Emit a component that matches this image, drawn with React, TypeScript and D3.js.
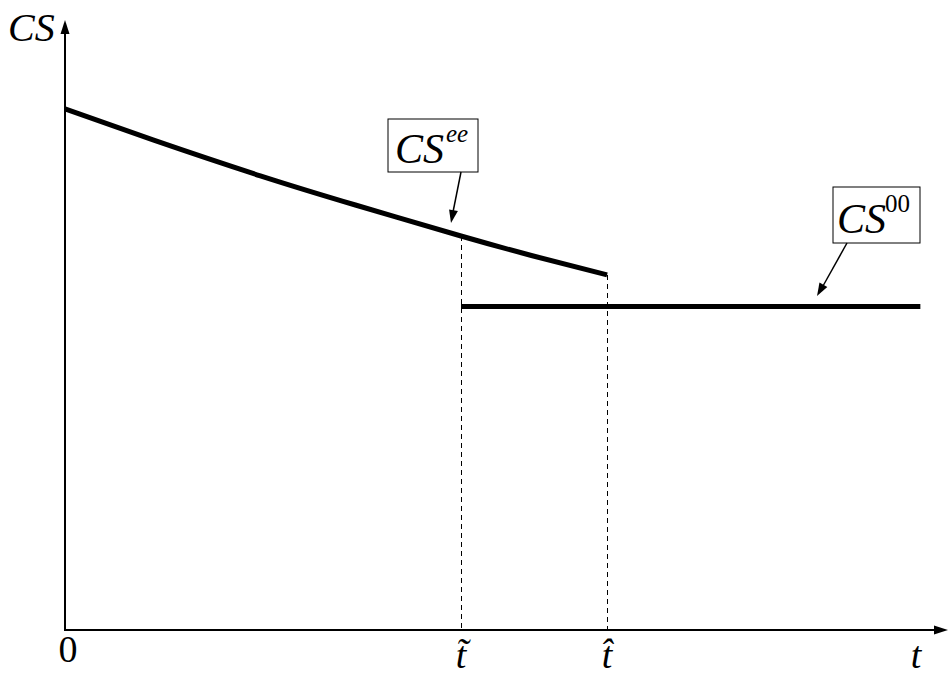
import React from "react";
import * as d3 from "d3";

const curveT = [0, 10, 22.2, 33, 45, 53, 61.6];
const curveCS = [85.7, 80.6, 74.7, 69.9, 64.8, 61.6, 58.4];
const flatT = [45, 97.2];
const flatCS = [53.2, 53.2];
const markT = [45, 61.6];
const markLabels = ["t\u0303", "t\u0302"];

const W = 948;
const H = 675;

export default function App() {
  const x = d3.scaleLinear().domain([0, 100]).range([65, 945]);
  const y = d3.scaleLinear().domain([0, 100]).range([630, 22]);
  const line = d3
    .line<[number, number]>()
    .x((d) => x(d[0]))
    .y((d) => y(d[1]))
    .curve(d3.curveNatural);
  const curvePts: [number, number][] = curveT.map((t, i) => [t, curveCS[i]]);
  const flatPts: [number, number][] = flatT.map((t, i) => [t, flatCS[i]]);
  const curveAt = (t: number) => curveCS[curveT.indexOf(t)];
  const x0 = x(0);
  const yb = y(0);
  const serif = "'Liberation Serif', 'Times New Roman', serif";

  const arrowHead = (tx: number, ty: number, fx: number, fy: number, len = 13, w = 4.5) => {
    const a = Math.atan2(ty - fy, tx - fx);
    const bx = tx - len * Math.cos(a);
    const by = ty - len * Math.sin(a);
    const px = -Math.sin(a) * w;
    const py = Math.cos(a) * w;
    return `M${tx},${ty}L${bx + px},${by + py}L${bx - px},${by - py}Z`;
  };

  return (
    <svg width={W} height={H} style={{ position: "absolute", left: 0, top: 0, background: "#fff" }}>
      {/* axes */}
      <line x1={x0} y1={yb + 1} x2={x0} y2={32} stroke="#000" strokeWidth={2} />
      <path d={arrowHead(x0, 20, x0, 40, 14, 4.5)} fill="#000" />
      <line x1={x0 - 1} y1={yb} x2={936} y2={yb} stroke="#000" strokeWidth={2} />
      <path d={arrowHead(948, yb, 930, yb, 14, 4.5)} fill="#000" />

      {/* dashed guides */}
      {markT.map((t, i) => (
        <line
          key={"g" + i}
          x1={Math.round(x(t)) + 0.5}
          x2={Math.round(x(t)) + 0.5}
          y1={y(curveAt(t))}
          y2={yb}
          stroke="#000"
          strokeWidth={1}
          strokeDasharray="5,4"
          shapeRendering="crispEdges"
        />
      ))}

      {/* series */}
      <path d={line(curvePts) || ""} fill="none" stroke="#000" strokeWidth={5} />
      <path d={line(flatPts) || ""} fill="none" stroke="#000" strokeWidth={5} />

      {/* labels */}
      <text x={8} y={41} fontFamily={serif} fontStyle="italic" fontSize={40}>CS</text>
      <text x={68} y={662} fontFamily={serif} fontSize={38} textAnchor="middle">0</text>
      {markT.map((t, i) => (
        <text key={"m" + i} x={x(t)} y={668} fontFamily={serif} fontStyle="italic" fontSize={38} textAnchor="middle">
          {markLabels[i]}
        </text>
      ))}
      <text x={916} y={668} fontFamily={serif} fontStyle="italic" fontSize={38} textAnchor="middle">t</text>

      {/* CS^ee box */}
      <rect x={388} y={119} width={90} height={53} fill="#fff" stroke="#000" strokeWidth={1} />
      <text x={395} y={163} fontFamily={serif} fontStyle="italic" fontSize={42}>CS</text>
      <text x={446} y={142} fontFamily={serif} fontStyle="italic" fontSize={25}>ee</text>
      <line x1={461} y1={172} x2={453} y2={212} stroke="#000" strokeWidth={1.5} />
      <path d={arrowHead(451, 223, 461, 172, 13, 4.5)} fill="#000" />

      {/* CS^00 box */}
      <rect x={833} y={187} width={87} height={56} fill="#fff" stroke="#000" strokeWidth={1} />
      <text x={837} y={233} fontFamily={serif} fontStyle="italic" fontSize={42}>CS</text>
      <text x={885} y={212} fontFamily={serif} fontSize={25}>00</text>
      <line x1={847} y1={243} x2={823} y2={286} stroke="#000" strokeWidth={1.5} />
      <path d={arrowHead(817, 296, 847, 243, 13, 4.5)} fill="#000" />
    </svg>
  );
}
